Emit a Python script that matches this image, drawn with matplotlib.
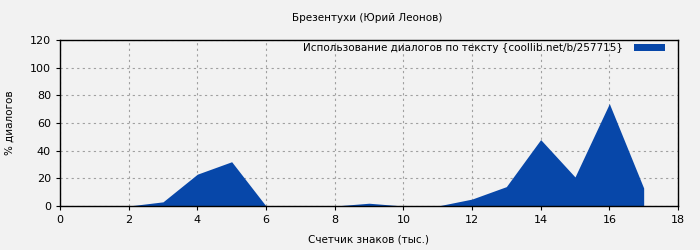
import matplotlib
matplotlib.use("Agg")
import matplotlib.pyplot as plt

x_vals = [0, 1, 2, 3, 4, 5, 6, 7, 8, 9, 10, 11, 12, 13, 14, 15, 16, 17]
y_vals = [0, 0, 0, 3, 23, 32, 0, 0, 0, 2, 0, 0, 5, 14, 48, 21, 74, 13]
x_ticks = [0, 2, 4, 6, 8, 10, 12, 14, 16, 18]
y_ticks = [0, 20, 40, 60, 80, 100, 120]

title = "Брезентухи (Юрий Леонов)"
legend_label = "Использование диалогов по тексту {coollib.net/b/257715}"
xlabel = "Счетчик знаков (тыс.)"
ylabel = "% диалогов"

bg = "#F2F2F2"
color = "#0747A9"

plt.rcParams['font.family'] = ['DejaVu Sans']
fig = plt.figure(figsize=(7, 2.5), dpi=100, facecolor=bg)
ax = fig.add_axes([60/700, 1-206/250, (678-60)/700, (206-40)/250], facecolor=bg)

ax.fill_between(x_vals, y_vals, 0, color=color, linewidth=0, label=legend_label)

ax.set_xlim(0, 18)
ax.set_ylim(0, 120)
ax.set_xticks(x_ticks)
ax.set_yticks(y_ticks)
ax.tick_params(labelsize=8, length=3, width=0.8, color="black", direction="out")
ax.grid(True, color="#A0A0A0", linestyle=(0, (2, 3)), linewidth=0.8)
ax.set_axisbelow(True)
for s in ax.spines.values():
    s.set_color("black")
    s.set_linewidth(1)

fig.text(0.525, 1-18/250, title, ha="center", va="center", fontsize=7.5)
ax.set_xlabel(xlabel, fontsize=7.5, labelpad=7)
ax.set_ylabel(ylabel, fontsize=7.5, labelpad=11)

leg = ax.legend(loc="upper right", bbox_to_anchor=(0.986, 1.006), frameon=False,
                fontsize=7.5, markerfirst=False,
                handlelength=3.0, handleheight=0.67, borderaxespad=0.0,
                handletextpad=1.05)

fig.savefig("out.png", dpi=100, facecolor=bg)
